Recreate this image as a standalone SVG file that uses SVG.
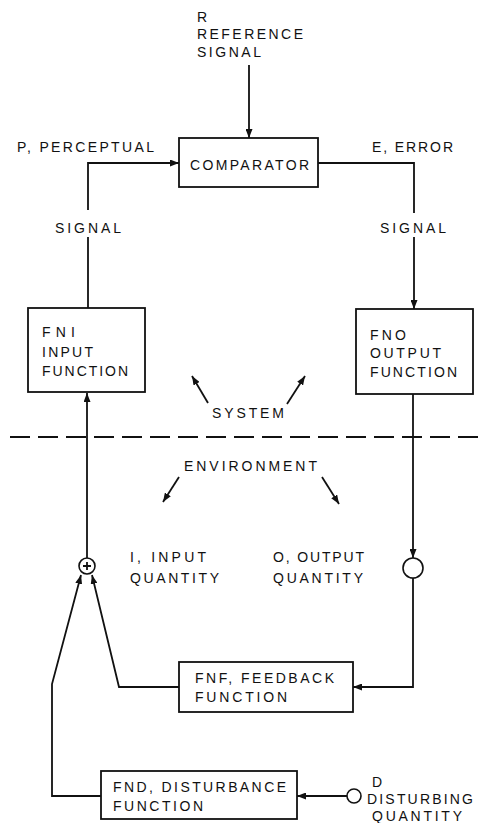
<svg xmlns="http://www.w3.org/2000/svg" width="485" height="823" viewBox="0 0 485 823">
<style>
text{font-family:"Liberation Sans",Arial,Helvetica,sans-serif;font-size:14px;fill:#111;}
.box{fill:#fff;stroke:#111;stroke-width:1.8;}
.ln{fill:none;stroke:#111;stroke-width:1.8;}
.arr{fill:none;stroke:#111;stroke-width:1.8;marker-end:url(#ah);}
.circ{fill:#fff;stroke:#111;stroke-width:1.6;}
</style>
<defs>
<marker id="ah" markerUnits="userSpaceOnUse" markerWidth="10" markerHeight="7" refX="9" refY="3.5" orient="auto">
<path d="M0,0 L9,3.5 L0,7 z" fill="#111"/>
</marker>
</defs>
<rect width="485" height="823" fill="#fff"/>
<g id="reference-label">
<text x="197" y="22">R</text>
<text x="197" y="39" textLength="106" lengthAdjust="spacing">REFERENCE</text>
<text x="197" y="57" textLength="64" lengthAdjust="spacing">SIGNAL</text>
</g>
<g id="labels">
<text x="17" y="152" textLength="137" lengthAdjust="spacing">P, PERCEPTUAL</text>
<text x="55" y="233" textLength="66" lengthAdjust="spacing">SIGNAL</text>
<text x="372" y="152" textLength="81" lengthAdjust="spacing">E, ERROR</text>
<text x="380" y="233" textLength="66" lengthAdjust="spacing">SIGNAL</text>
<text x="212" y="418" textLength="72" lengthAdjust="spacing">SYSTEM</text>
<text x="184" y="471" textLength="133" lengthAdjust="spacing">ENVIRONMENT</text>
<text x="130" y="562" textLength="76" lengthAdjust="spacing">I, INPUT</text>
<text x="130" y="583" textLength="89" lengthAdjust="spacing">QUANTITY</text>
<text x="273" y="562" textLength="91" lengthAdjust="spacing">O, OUTPUT</text>
<text x="273" y="583" textLength="90" lengthAdjust="spacing">QUANTITY</text>
</g>
<g id="comparator">
<rect class="box" x="179" y="138" width="139" height="49"/>
<text x="190" y="170" textLength="119" lengthAdjust="spacing">COMPARATOR</text>
</g>
<g id="fni">
<rect class="box" x="28" y="308" width="117" height="84"/>
<text x="42" y="337" textLength="33" lengthAdjust="spacing">FNI</text>
<text x="42" y="357" textLength="51" lengthAdjust="spacing">INPUT</text>
<text x="42" y="376" textLength="86" lengthAdjust="spacing">FUNCTION</text>
</g>
<g id="fno">
<rect class="box" x="356" y="309" width="117" height="85"/>
<text x="370" y="340" textLength="36" lengthAdjust="spacing">FNO</text>
<text x="370" y="358" textLength="71" lengthAdjust="spacing">OUTPUT</text>
<text x="370" y="377" textLength="87" lengthAdjust="spacing">FUNCTION</text>
</g>
<g id="fnf">
<rect class="box" x="179" y="662" width="174" height="50"/>
<text x="195" y="683" textLength="139" lengthAdjust="spacing">FNF, FEEDBACK</text>
<text x="195" y="702" textLength="92" lengthAdjust="spacing">FUNCTION</text>
</g>
<g id="fnd">
<rect class="box" x="101" y="771" width="196" height="48"/>
<text x="113" y="792" textLength="173" lengthAdjust="spacing">FND, DISTURBANCE</text>
<text x="113" y="811" textLength="90" lengthAdjust="spacing">FUNCTION</text>
</g>
<g id="sum">
<circle class="circ" cx="87" cy="566" r="8"/>
<path class="ln" d="M83,566 H91 M87,562 V570" stroke-width="1.4"/>
</g>
<g id="output-quantity">
<circle class="circ" cx="413" cy="568" r="10"/>
</g>
<g id="disturbance">
<circle class="circ" cx="354" cy="796" r="7"/>
<text x="372" y="787">D</text>
<text x="367" y="804" textLength="106" lengthAdjust="spacing">DISTURBING</text>
<text x="372" y="821" textLength="90" lengthAdjust="spacing">QUANTITY</text>
</g>
<g id="connectors">
<path class="arr" d="M249,65 V138"/>
<path class="ln" d="M88,308 V237"/>
<path class="arr" d="M88,210 V163 H179"/>
<path class="ln" d="M318,163 H414 V213"/>
<path class="arr" d="M414,237 V309"/>
<path class="arr" d="M87,558 V393"/>
<path class="arr" d="M413,394 V558"/>
<path class="arr" d="M413,578 V687 H353"/>
<path class="arr" d="M179,687 H119 L92,575"/>
<path class="arr" d="M101,796 H52 V684 L81,575"/>
<path class="arr" d="M347,796 H297"/>
<path class="arr" d="M208,403 L192,376"/>
<path class="arr" d="M287,404 L305,376"/>
<path class="arr" d="M179,477 L163,502"/>
<path class="arr" d="M322,477 L339,504"/>
</g>
<g id="boundary">
<path class="ln" d="M10,437 H485" stroke-dasharray="20 8"/>
</g>
</svg>
